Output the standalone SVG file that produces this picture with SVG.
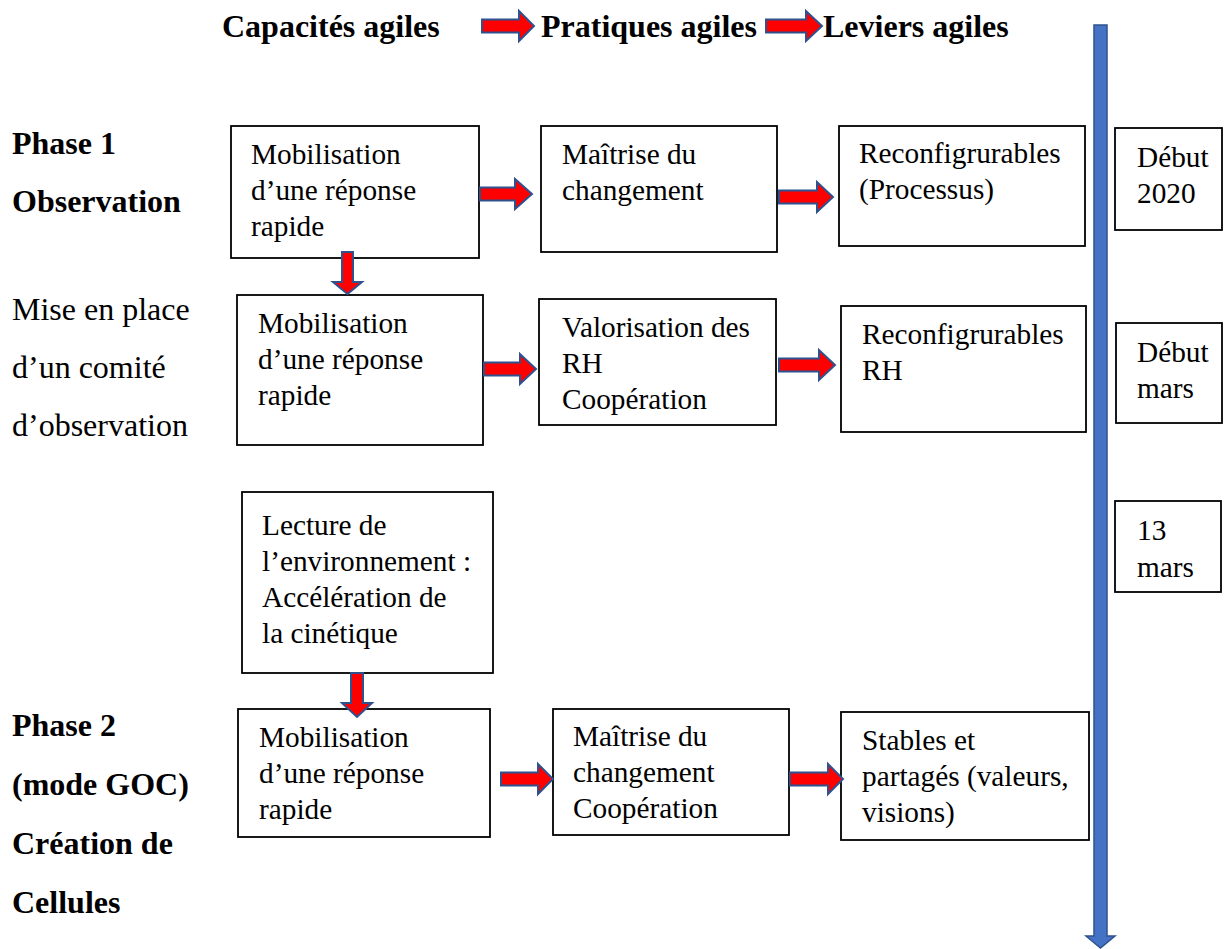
<svg xmlns="http://www.w3.org/2000/svg" width="1229" height="949" viewBox="0 0 1229 949" font-family="Liberation Serif, Times New Roman, serif">
<style>
.bx{fill:#fff;stroke:#000;stroke-width:1.8}
.t{font-size:29.3px;fill:#000}
.l{font-size:32px;fill:#000}
.b{font-weight:bold}
.ar{fill:#FF0000;stroke:#2F528F;stroke-width:2;stroke-linejoin:miter}
.tl{fill:#4472C4;stroke:#2F528F;stroke-width:1.5}
</style>
<rect width="1229" height="949" fill="#fff"/>
<g id="header">
<text class="l b" x="222" y="37">Capacités agiles</text>
<text class="l b" x="541" y="37">Pratiques agiles</text>
<text class="l b" x="823" y="37">Leviers agiles</text>
<polygon class="ar" points="482,19.5 519,19.5 519,11 534,26 519,41 519,32.5 482,32.5"/>
<polygon class="ar" points="766,19.5 806,19.5 806,11 822,26 806,41 806,32.5 766,32.5"/>
</g>
<g id="labels">
<text class="l b" x="12" y="154">Phase 1</text>
<text class="l b" x="12" y="212">Observation</text>
<text class="l" x="12" y="320">Mise en place</text>
<text class="l" x="12" y="378">d’un comité</text>
<text class="l" x="12" y="436">d’observation</text>
<text class="l b" x="12" y="736">Phase 2</text>
<text class="l b" x="12" y="795">(mode GOC)</text>
<text class="l b" x="12" y="854">Création de</text>
<text class="l b" x="12" y="913">Cellules</text>
</g>
<g id="timeline">
<polygon class="tl" points="1094,25 1107,25 1107,936 1115,936 1100.5,948 1086,936 1094,936"/>
</g>
<g id="n1">
<rect class="bx" x="231" y="126" width="248" height="132"/>
<text class="t" x="251" y="164">Mobilisation</text>
<text class="t" x="251" y="200">d’une réponse</text>
<text class="t" x="251" y="236">rapide</text>
</g>
<g id="n2">
<rect class="bx" x="541" y="126" width="236" height="126"/>
<text class="t" x="562" y="164">Maîtrise du</text>
<text class="t" x="562" y="200">changement</text>
</g>
<g id="n3">
<rect class="bx" x="839" y="126" width="246" height="120"/>
<text class="t" x="859" y="163">Reconfigrurables</text>
<text class="t" x="859" y="199">(Processus)</text>
</g>
<g id="d1">
<rect class="bx" x="1115" y="128" width="107" height="102"/>
<text class="t" x="1137" y="167">Début</text>
<text class="t" x="1137" y="203">2020</text>
</g>
<g id="n4">
<rect class="bx" x="237" y="295" width="246" height="150"/>
<text class="t" x="258" y="333">Mobilisation</text>
<text class="t" x="258" y="369">d’une réponse</text>
<text class="t" x="258" y="405">rapide</text>
</g>
<g id="n5">
<rect class="bx" x="539" y="299" width="237" height="126"/>
<text class="t" x="562" y="337">Valorisation des</text>
<text class="t" x="562" y="373">RH</text>
<text class="t" x="562" y="409">Coopération</text>
</g>
<g id="n6">
<rect class="bx" x="841" y="306" width="245" height="126"/>
<text class="t" x="862" y="344">Reconfigrurables</text>
<text class="t" x="862" y="380">RH</text>
</g>
<g id="d2">
<rect class="bx" x="1116" y="323" width="106" height="100"/>
<text class="t" x="1137" y="362">Début</text>
<text class="t" x="1137" y="398">mars</text>
</g>
<g id="n7">
<rect class="bx" x="242" y="492" width="251" height="181"/>
<text class="t" x="262" y="535">Lecture de</text>
<text class="t" x="262" y="571">l’environnement :</text>
<text class="t" x="262" y="607">Accélération de</text>
<text class="t" x="262" y="643">la cinétique</text>
</g>
<g id="d3">
<rect class="bx" x="1115" y="501" width="106" height="91"/>
<text class="t" x="1137" y="540">13</text>
<text class="t" x="1137" y="577">mars</text>
</g>
<g id="n8">
<rect class="bx" x="238" y="709" width="252" height="128"/>
<text class="t" x="259" y="747">Mobilisation</text>
<text class="t" x="259" y="783">d’une réponse</text>
<text class="t" x="259" y="819">rapide</text>
</g>
<g id="n9">
<rect class="bx" x="553" y="709" width="236" height="126"/>
<text class="t" x="573" y="746">Maîtrise du</text>
<text class="t" x="573" y="782">changement</text>
<text class="t" x="573" y="818">Coopération</text>
</g>
<g id="n10">
<rect class="bx" x="841" y="712" width="248" height="128"/>
<text class="t" x="862" y="750">Stables et</text>
<text class="t" x="862" y="786">partagés (valeurs,</text>
<text class="t" x="862" y="822">visions)</text>
</g>
<g id="connectors">
<polygon class="ar" points="480,187.5 515,187.5 515,179 532,194 515,209 515,200.5 480,200.5"/>
<polygon class="ar" points="779,190.5 817,190.5 817,182 833,197 817,212 817,203.5 779,203.5"/>
<polygon class="ar" points="342,252 353,252 353,282 362,282 347.5,294 333,282 342,282"/>
<polygon class="ar" points="484,362.5 520,362.5 520,354 536,369 520,384 520,375.5 484,375.5"/>
<polygon class="ar" points="779,358.5 819,358.5 819,350 835,365 819,380 819,371.5 779,371.5"/>
<polygon class="ar" points="351,673 363,673 363,703 372,703 357,717 342,703 351,703"/>
<polygon class="ar" points="501,772.5 538,772.5 538,764 553,779 538,794 538,785.5 501,785.5"/>
<polygon class="ar" points="790,772.5 828,772.5 828,764 843,779 828,794 828,785.5 790,785.5"/>
</g>
</svg>
